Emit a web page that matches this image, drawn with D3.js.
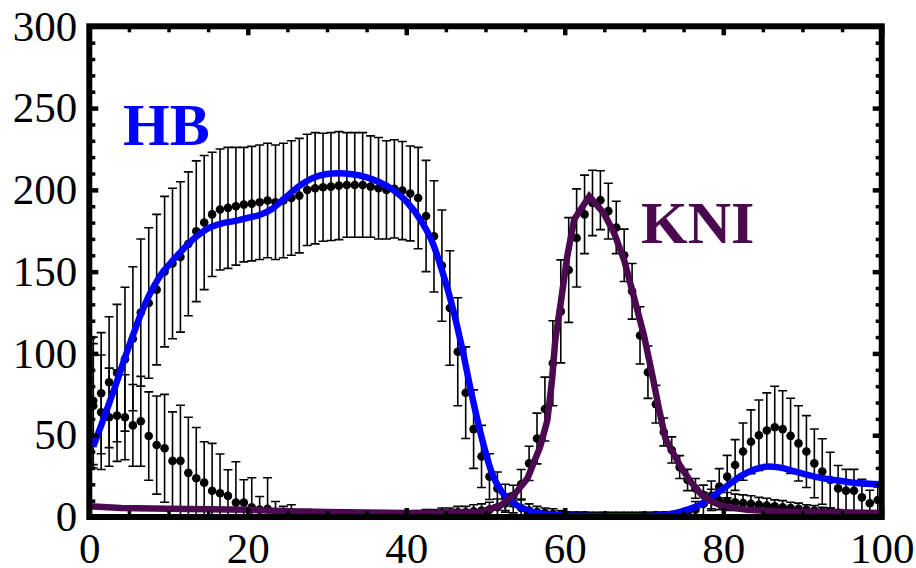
<!DOCTYPE html>
<html>
<head>
<meta charset="utf-8">
<script src="https://cdn.jsdelivr.net/npm/d3@7"></script>
<style>
  html, body { margin: 0; padding: 0; background: #ffffff; }
  svg { display: block; }
</style>
</head>
<body>
<svg id="chart" width="916" height="568"></svg>
<script>
// ---------- DATA ----------
const xTicksMajor = [0, 20, 40, 60, 80, 100];
const yTicksMajor = [0, 50, 100, 150, 200, 250, 300];
const xTickLabels = ["0", "20", "40", "60", "80", "100"];
const yTickLabels = ["0", "50", "100", "150", "200", "250", "300"];

// measurement bins (bin centres 0.5 ... 99.5)
const binCenters = d3.range(0.5, 100, 1);

const hbData = [
  71, 75.7, 82.4, 88, 96.5, 109, 125, 130.8, 139, 150,
  155, 159, 167, 174.7, 180, 185, 188, 189, 190, 191,
  191.6, 192.4, 193.5, 192.4, 193.5, 195, 196.5, 200, 201, 201.6,
  202, 202.6, 203, 203, 203, 202, 201, 200, 200.6, 199.6,
  197.8, 195, 184, 171.6, 153.7, 127.8, 101, 76, 53.7, 37,
  24.7, 17.5, 12, 8.5, 5.5, 4, 3, 2.5, 2, 1.5,
  1, 1, 1, 0.8, 0.8, 0.8, 0.8, 0.8, 0.8, 0.8,
  0.8, 1, 1, 1.2, 1.5, 2.5, 4.5, 8, 13, 18.6,
  24.7, 31.8, 40, 46, 50, 52.9, 54.9, 53.7, 49.6, 45,
  40, 32.8, 27.8, 22.6, 17.5, 16.1, 16.1, 12, 8.4, 10.4
];
const hbErr = [
  39, 37, 40, 42, 44, 44, 45, 46, 46, 46,
  46, 46, 44, 43, 41, 38, 37, 37, 36, 35,
  35, 35, 35, 35, 35, 35, 35, 34, 34, 33,
  33, 33, 32, 32, 32, 31, 31, 30, 30, 30,
  29, 31, 34, 34, 34, 35, 33, 28, 24, 19,
  14, 10, 8, 6, 5, 4, 3.5, 3, 3, 2.5,
  2, 2, 2, 2, 2, 2, 2, 2, 2, 2,
  2, 2, 2, 2, 2, 3, 5, 7, 9, 11,
  13, 15.5, 17.5, 19.5, 21.5, 23, 25, 23.5, 23, 23,
  22, 21, 20, 17, 14, 13, 13, 11, 8, 8
];
const kniData = [
  68, 64, 61, 62, 61, 56, 58.5, 49.5, 44, 42,
  34.3, 34.3, 27, 23.7, 21, 16, 14.5, 12.9, 8.8, 8.8,
  6, 4.5, 5, 3, 2.5, 2.5, 1.5, 1.5, 1.2, 1,
  1, 1, 0.8, 0.8, 0.8, 0.8, 1, 1, 1, 1.2,
  1.5, 1.5, 2, 2, 2.5, 2.5, 3, 3, 3.5, 4,
  4.5, 6, 8.5, 12.9, 20, 32.8, 48, 66, 94, 125.7,
  151, 170.6, 185, 192, 193.7, 187, 177, 160, 138, 111,
  88.5, 69, 52, 41, 30.5, 22.6, 17.5, 13.5, 11, 10,
  9.5, 9, 8.5, 8, 7.5, 7, 6.5, 6, 5.5, 5,
  4.5, 4, 3.5, 3, 2.5, 2, 1.5, 1.2, 1, 1
];
const kniErr = [
  38, 35, 30, 28, 26, 25, 27.5, 27, 30, 33,
  30, 34, 34, 31, 25, 29, 24, 16, 25, 14,
  18, 8, 19, 6.5, 4, 5, 2.5, 3, 2, 2,
  2, 2, 2, 2, 2, 2, 2, 2, 2, 2,
  2, 2, 2.5, 2.5, 3, 3, 3.5, 3.5, 4, 4,
  4.5, 5, 5.5, 6.5, 9, 10.5, 15.5, 19.5, 26, 31.5,
  32, 30, 24, 20, 18, 17, 16, 16, 17, 17.5,
  16, 11.5, 8.5, 8, 7, 6.5, 6, 6, 6, 5.5,
  5.5, 5, 5, 5, 4.5, 4.5, 4, 4, 3.5, 3.5,
  3, 3, 2.5, 2.5, 2, 2, 1.5, 1.5, 1, 1
];

// model curves (positions and values)
const hbModelX = [0.5, 1.5, 2.5, 3.5, 4.5, 5.5, 6.5, 7.5, 8.75, 10.2, 11.7, 13.4, 15, 16.75, 18.4, 20.1, 21.4, 23.1, 24.7, 26.4, 28.1, 29.8, 31.5, 33.2, 34.8, 36.5, 38.2, 40, 42, 43.3, 44.5, 45.8, 47.1, 48.3, 49.6, 50.8, 52.1, 53.4, 54.8, 56, 58, 60, 65, 70, 73, 75.5, 77.1, 78.8, 80.5, 82.2, 83.9, 85.6, 87.2, 88.9, 91.5, 94, 96.5, 100];
const hbModelY = [43, 56, 69.5, 83, 97.5, 111, 124, 135, 146, 155, 163, 171, 176.5, 179.5, 181, 183, 184.5, 188.5, 195, 202, 207, 209.5, 210.2, 209.5, 208, 205, 200.5, 193, 180, 168, 151, 129, 102, 74, 47, 27, 15, 9, 5, 3, 1.5, 0.8, 0.5, 0.5, 1.5, 4.5, 7.5, 13, 19, 25, 29, 30.8, 30.2, 28, 24.7, 22.6, 21, 20];
const kniModelX = [0, 4, 10, 20, 25, 30, 40, 49.4, 51.9, 53.6, 55.3, 56.9, 57.8, 58.4, 58.8, 59.5, 60.3, 61.2, 63.1, 64.9, 66.2, 67.5, 68.7, 70, 71, 71.9, 72.7, 73.8, 74.6, 75.9, 77.2, 78.5, 80, 83, 87, 100];
const kniModelY = [6.5, 5.5, 5, 4.5, 3.5, 3, 2.5, 3, 7, 13.5, 23.7, 43, 59, 84, 108, 131, 159, 182, 196, 186, 174, 157, 135, 111, 88, 66, 48, 38, 31, 21.5, 14, 9.5, 6.5, 4.5, 3.3, 2.5];

const labelHB = "HB";
const labelKNI = "KNI";

// ---------- STYLE ----------
const BLUE = "#0000ff";
const PURPLE = "#4b0a4f";
const FONT = "'Liberation Serif', 'Times New Roman', serif";

const svg = d3.select("#chart");
svg.append("rect").attr("width", 916).attr("height", 568).attr("fill", "#fff");

const X0 = 89.3, X1 = 881.7, Y0 = 517, Y1 = 26.3;
const x = d3.scaleLinear().domain([0, 100]).range([X0, X1]);
const y = d3.scaleLinear().domain([0, 300]).range([Y0, Y1]);

svg.append("clipPath").attr("id", "plotclip")
  .append("rect").attr("x", X0).attr("y", Y1).attr("width", X1 - X0).attr("height", Y0 - Y1);

const plot = svg.append("g").attr("clip-path", "url(#plotclip)");

function drawSeries(vals, errs) {
  const g = plot.append("g");
  const pts = binCenters.map((c, i) => ({ c, v: vals[i], e: errs[i] }));
  const cap = 4.5;
  g.selectAll("path.eb").data(pts).enter().append("path")
    .attr("d", d => {
      const px = x(d.c), top = y(d.v + d.e), bot = y(d.v - d.e);
      return `M${px},${top}V${bot}M${px - cap},${top}H${px + cap}M${px - cap},${bot}H${px + cap}`;
    })
    .attr("fill", "none").attr("stroke", "#000").attr("stroke-width", 1.6);
  g.selectAll("circle").data(pts).enter().append("circle")
    .attr("cx", d => x(d.c)).attr("cy", d => y(d.v)).attr("r", 4.3).attr("fill", "#000");
}
drawSeries(kniData, kniErr);
drawSeries(hbData, hbErr);

const hbLine = d3.line().x(d => x(d[0])).y(d => y(d[1])).curve(d3.curveMonotoneX);
plot.append("path")
  .attr("d", hbLine(hbModelX.map((v, i) => [v, hbModelY[i]])))
  .attr("fill", "none").attr("stroke", BLUE).attr("stroke-width", 6.5).attr("stroke-linejoin", "round");

const kniLine = d3.line().x(d => x(d[0])).y(d => y(d[1])).curve(d3.curveLinear);
plot.append("path")
  .attr("d", kniLine(kniModelX.map((v, i) => [v, kniModelY[i]])))
  .attr("fill", "none").attr("stroke", PURPLE).attr("stroke-width", 6.5).attr("stroke-linejoin", "miter");

// ---------- AXES / FRAME ----------
const xMinor = d3.range(0, 101, 5).filter(v => v % 20 !== 0);
const yMinor = d3.range(0, 301, 10).filter(v => v % 50 !== 0);

function styleAxis(g, width) {
  g.select(".domain").remove();
  g.selectAll(".tick line").attr("stroke", "#000").attr("stroke-width", width);
  g.selectAll("text").attr("font-family", FONT).attr("font-size", 43).attr("fill", "#000");
}

// bottom
svg.append("g").attr("transform", `translate(0,${Y0})`)
  .call(d3.axisBottom(x).tickValues(xTicksMajor).tickFormat((d, i) => xTickLabels[i]).tickSizeInner(-9).tickSizeOuter(0).tickPadding(15))
  .call(g => styleAxis(g, 4.5));
svg.append("g").attr("transform", `translate(0,${Y0})`)
  .call(d3.axisBottom(x).tickValues(xMinor).tickFormat("").tickSizeInner(-6).tickSizeOuter(0))
  .call(g => styleAxis(g, 3.5));
// top
svg.append("g").attr("transform", `translate(0,${Y1})`)
  .call(d3.axisTop(x).tickValues(xTicksMajor).tickFormat("").tickSizeInner(-9).tickSizeOuter(0))
  .call(g => styleAxis(g, 4.5));
svg.append("g").attr("transform", `translate(0,${Y1})`)
  .call(d3.axisTop(x).tickValues(xMinor).tickFormat("").tickSizeInner(-6).tickSizeOuter(0))
  .call(g => styleAxis(g, 3.5));
// left
svg.append("g").attr("transform", `translate(${X0},0)`)
  .call(d3.axisLeft(y).tickValues(yTicksMajor).tickFormat((d, i) => yTickLabels[i]).tickSizeInner(-9).tickSizeOuter(0).tickPadding(12))
  .call(g => styleAxis(g, 4.5));
svg.append("g").attr("transform", `translate(${X0},0)`)
  .call(d3.axisLeft(y).tickValues(yMinor).tickFormat("").tickSizeInner(-6).tickSizeOuter(0))
  .call(g => styleAxis(g, 3.5));
// right
svg.append("g").attr("transform", `translate(${X1},0)`)
  .call(d3.axisRight(y).tickValues(yTicksMajor).tickFormat("").tickSizeInner(-9).tickSizeOuter(0))
  .call(g => styleAxis(g, 4.5));
svg.append("g").attr("transform", `translate(${X1},0)`)
  .call(d3.axisRight(y).tickValues(yMinor).tickFormat("").tickSizeInner(-6).tickSizeOuter(0))
  .call(g => styleAxis(g, 3.5));

svg.append("rect")
  .attr("x", X0).attr("y", Y1).attr("width", X1 - X0).attr("height", Y0 - Y1)
  .attr("fill", "none").attr("stroke", "#000").attr("stroke-width", 6);

// ---------- LABELS ----------
svg.append("text").text(labelHB)
  .attr("x", 123).attr("y", 145)
  .attr("font-family", FONT).attr("font-weight", "bold").attr("font-size", 60).attr("fill", BLUE);
svg.append("text").text(labelKNI)
  .attr("x", 641).attr("y", 243)
  .attr("font-family", FONT).attr("font-weight", "bold").attr("font-size", 60).attr("fill", PURPLE);
</script>
</body>
</html>
